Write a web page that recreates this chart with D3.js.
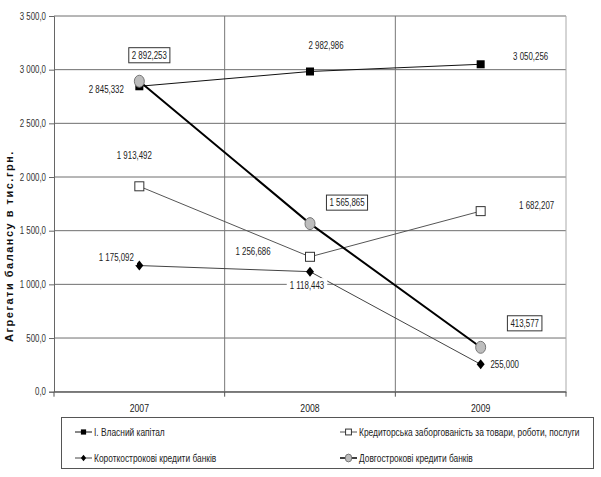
<!DOCTYPE html>
<html><head><meta charset="utf-8">
<script src="https://cdn.jsdelivr.net/npm/d3@7"></script>
<style>
body{margin:0;background:#fff;}
svg{display:block;font-family:"Liberation Sans",Arial,sans-serif;}
</style></head>
<body><svg id="c" width="601" height="477"></svg>
<script>
const years = ["2007","2008","2009"];
const seriesNames = ["I. Власний капітал","Кредиторська заборгованість за товари, роботи, послуги","Короткострокові кредити банків","Довгострокові кредити банків"];
const vlasnyi = [2845.332, 2982.986, 3050.256];
const kredytorska = [1913.492, 1256.686, 1682.207];
const korotko = [1175.092, 1118.443, 255.000];
const dovgo = [2892.253, 1565.865, 413.577];
const yTicks = [0,500,1000,1500,2000,2500,3000,3500];

const SX = 0.79; // narrow font emulation
const svg = d3.select("#c");
const L=54,R=566,T=16,B=391.7;
const x = d3.scaleBand().domain(years).range([L,R]);
const y = d3.scaleLinear().domain([0,3500]).range([B,T]);
const cx = d => x(d)+x.bandwidth()/2;

const fmtVal = v => d3.format(",.3f")(v).replace(/,/g," ").replace(".",",");
const fmtTick = v => d3.format(",.1f")(v).replace(/,/g," ").replace(".",",");

// gridlines
const g = svg.append("g");
g.selectAll("line.h").data(yTicks).join("line")
 .attr("x1",L).attr("x2",R).attr("y1",d=>y(d)).attr("y2",d=>y(d))
 .attr("stroke","#6e6e6e").attr("stroke-width",1);
g.selectAll("line.v").data(years.slice(1)).join("line")
 .attr("x1",d=>x(d)).attr("x2",d=>x(d)).attr("y1",T).attr("y2",B)
 .attr("stroke","#777").attr("stroke-width",1);
g.append("line").attr("x1",R).attr("x2",R).attr("y1",T).attr("y2",B).attr("stroke","#aaa");

// axes
const yAxis = d3.axisLeft(y).tickValues(yTicks).tickFormat(fmtTick).tickSize(5).tickPadding(3);
const ya = svg.append("g").attr("transform",`translate(${L},0)`).call(yAxis);
ya.select(".domain").attr("stroke","#666");
ya.selectAll(".tick line").attr("stroke","#666");
ya.selectAll("text").attr("font-size",10).attr("fill","#333").attr("font-family","inherit")
  .attr("x",-8/SX).attr("transform",`scale(${SX},1)`);

const xAxis = d3.axisBottom(x).tickSize(0).tickPadding(12);
const xa = svg.append("g").attr("transform",`translate(0,${B})`).call(xAxis);
xa.select(".domain").attr("stroke","#555");
xa.selectAll("text").attr("font-size",11).attr("fill","#222").attr("font-family","inherit")
  .attr("transform",`scale(${SX},1)`);
xa.selectAll("line.bt").data(years).join("line").attr("class","bt")
 .attr("x1",d=>x(d)+x.bandwidth()).attr("x2",d=>x(d)+x.bandwidth()).attr("y1",0).attr("y2",5).attr("stroke","#555");
xa.append("line").attr("x1",L).attr("x2",L).attr("y1",0).attr("y2",5).attr("stroke","#555");

// y title
svg.append("text").attr("transform","translate(13,246) rotate(-90)")
 .attr("text-anchor","middle")
 .attr("font-weight","bold").attr("font-size",11).attr("letter-spacing",1.5).attr("fill","#111")
 .text("Агрегати балансу  в тис.грн.");

const series = [
 {vals:vlasnyi, color:"#111", w:1, marker:"sq"},
 {vals:kredytorska, color:"#555", w:1, marker:"osq"},
 {vals:korotko, color:"#444", w:1, marker:"dia"},
 {vals:dovgo, color:"#000", w:2, marker:"circ"}
];
// label offsets (layout)
const labelOff = [
 [[-33,3],[16,-26],[50,-8]],
 [[-5,-31],[-57,-5],[56,-5]],
 [[-23,-8],[-3,14],[24,0]],
 [[10,-26],[37,-21],[44,-24]]
];
const boxed = [false,false,false,true];

const line = d3.line().x((d,i)=>cx(years[i])).y(d=>y(d));
const lay = svg.append("g");
[2,1,0,3].forEach(k=>{
  const s=series[k];
  lay.append("path").datum(s.vals).attr("d",line).attr("fill","none")
   .attr("stroke",s.color).attr("stroke-width",s.w);
});

function drawMarker(sel, type, px, py, f){
  f = f||1;
  if(type==="sq"){ const h=4*f; sel.append("rect").attr("x",px-h).attr("y",py-h).attr("width",2*h).attr("height",2*h).attr("fill","#000"); }
  else if(type==="osq"){ const h=4.5*f; sel.append("rect").attr("x",px-h).attr("y",py-h).attr("width",2*h).attr("height",2*h).attr("fill","#fff").attr("stroke","#333"); }
  else if(type==="dia"){ sel.append("path").attr("d",`M${px},${py-5*f}L${px+4*f},${py}L${px},${py+5*f}L${px-4*f},${py}Z`).attr("fill","#000"); }
  else { sel.append("ellipse").attr("cx",px).attr("cy",py).attr("rx",5*f).attr("ry",6*f).attr("fill","#bdbdbd").attr("stroke","#777"); }
}
[2,1,0,3].forEach(k=>{
  const s=series[k];
  s.vals.forEach((v,i)=>drawMarker(lay,s.marker,cx(years[i]),y(v)));
});

// data labels
const lab = svg.append("g");
series.forEach((s,k)=>{
  s.vals.forEach((v,i)=>{
    const px=cx(years[i])+labelOff[k][i][0], py=y(v)+labelOff[k][i][1];
    const gg = lab.append("g").attr("transform",`translate(${px},${py})`);
    const rect = gg.append("rect");
    const t = gg.append("text").attr("text-anchor","middle").attr("transform",`scale(${SX},1)`)
      .attr("dominant-baseline","central").attr("font-size",10).attr("fill","#222").text(fmtVal(v));
    const bb = t.node().getBBox();
    rect.attr("x",bb.x*SX-3).attr("y",bb.y-2).attr("width",bb.width*SX+6).attr("height",bb.height+4)
      .attr("fill","#fff").attr("stroke",boxed[k]?"#333":"none").attr("stroke-width",1);
  });
});

// legend
const lg = svg.append("g");
lg.append("rect").attr("x",61.5).attr("y",417.5).attr("width",532).attr("height",51).attr("fill","#fff").attr("stroke","#555");
const legPos = [[75,432],[340,432],[75,458],[340,458]];
series.forEach((s,k)=>{
  const [lx,ly]=legPos[k];
  lg.append("line").attr("x1",lx).attr("x2",lx+17).attr("y1",ly).attr("y2",ly).attr("stroke",s.color).attr("stroke-width",Math.min(s.w,1.5));
  drawMarker(lg,s.marker,lx+8.5,ly,0.65);
  lg.append("text").attr("transform",`translate(${lx+19},${ly}) scale(${SX},1)`).attr("dominant-baseline","central")
   .attr("font-size",10.6).attr("fill","#222").text(seriesNames[k]);
});
</script></body></html>
